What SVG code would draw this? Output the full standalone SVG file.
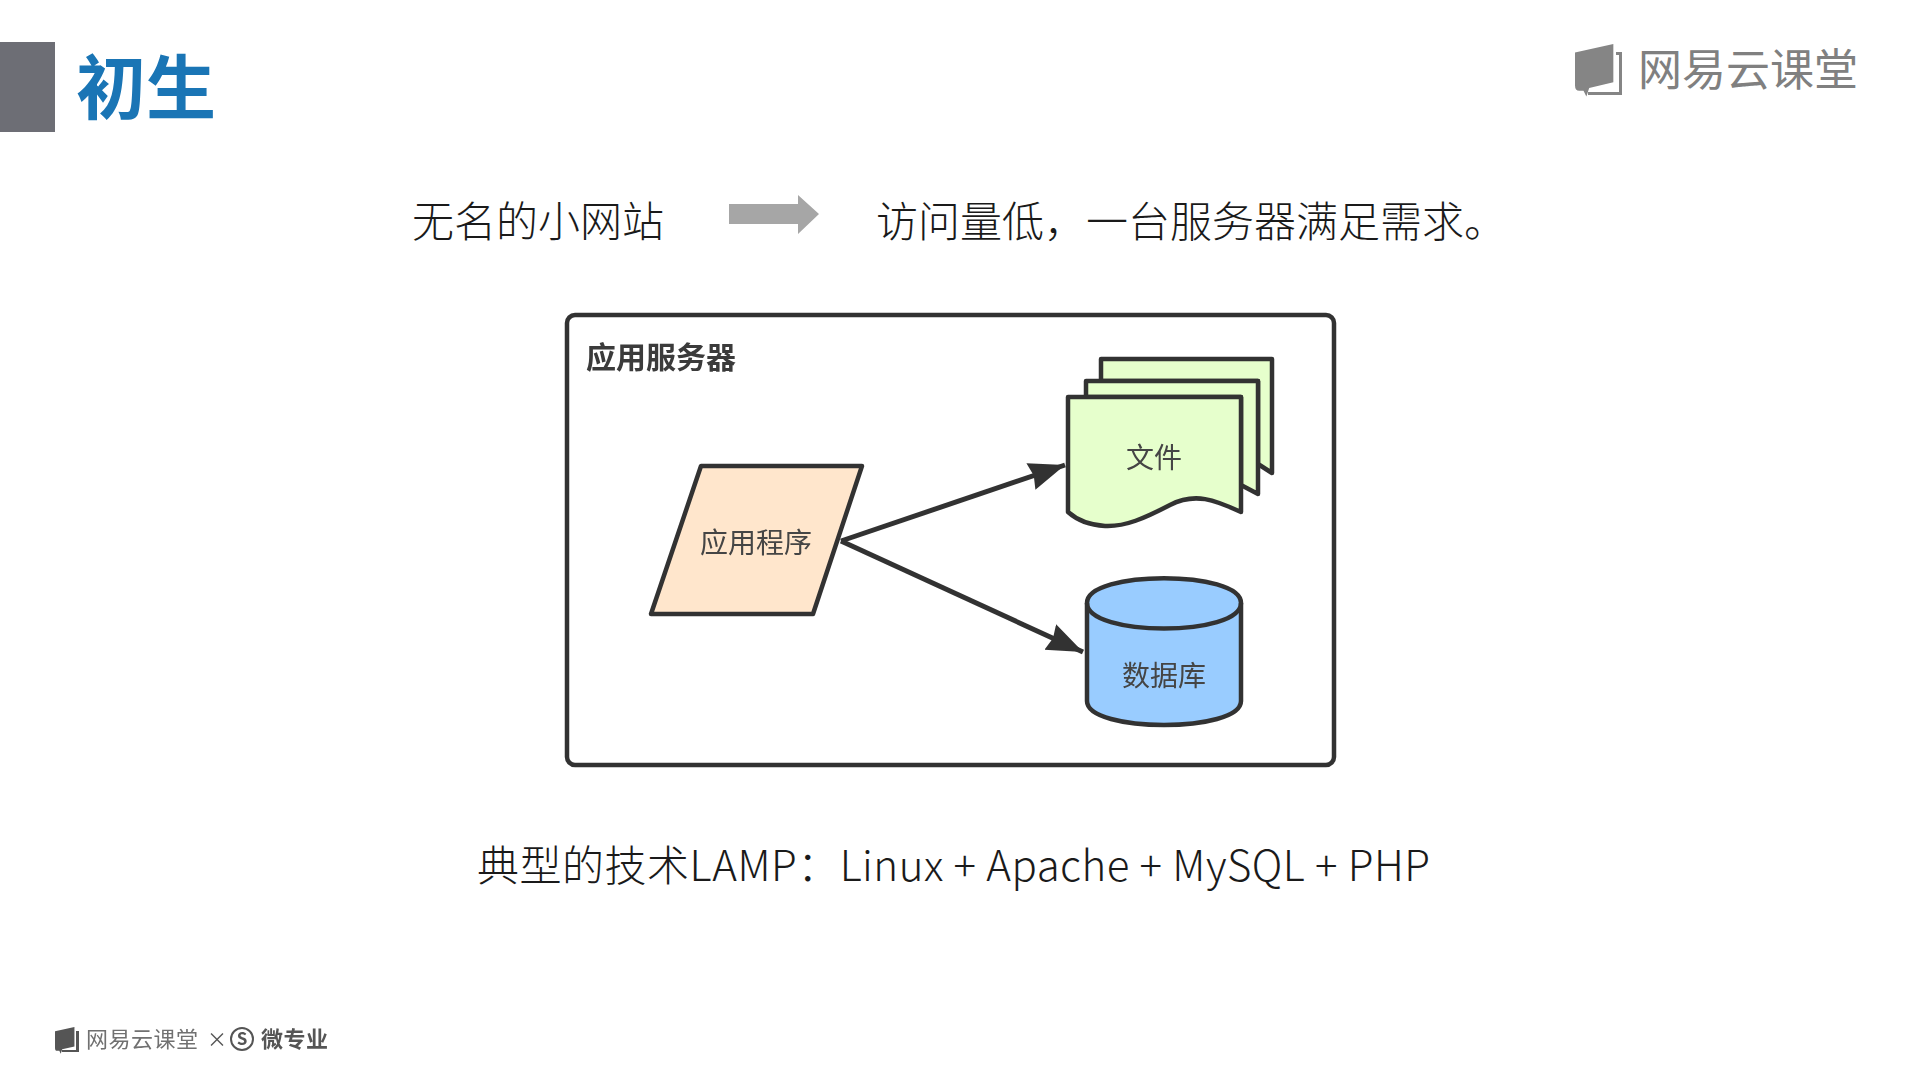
<svg xmlns="http://www.w3.org/2000/svg" width="1914" height="1073" viewBox="0 0 1914 1073">
<style>
text{font-family:"Noto Sans CJK SC","Noto Sans",sans-serif;}
.line{font-size:42px;fill:#1a1a1a;font-weight:300;}
.lbl{font-size:28px;fill:#444;text-anchor:middle;}
.shape{stroke:#333;stroke-width:4.5;stroke-linejoin:round;}
.conn{stroke:#333;stroke-width:5;fill:none;}
.logo{fill:#858585;}
.logot{fill:#808080;font-weight:400;}
</style>
<defs>
<marker id="ah" markerUnits="userSpaceOnUse" markerWidth="42" markerHeight="32" refX="36" refY="14" orient="auto"><path d="M0 0L36 14L0 28L3 14Z" fill="#333"/></marker>
<path id="book" d="M0 6L27 0V27L10 31L8 37L6 33H3Q0 33 0 29Z"/>
<filter id="soft" x="-5%" y="-5%" width="110%" height="110%"><feGaussianBlur stdDeviation="0.7"/></filter>
</defs>
<rect width="1914" height="1073" fill="#fff"/>
<g id="title">
<rect x="0" y="42" width="55" height="90" fill="#6d6e75"/>
<text x="76" y="114" font-size="70" font-weight="700" fill="#1a75b5">初生</text>
</g>
<g id="brand">
<g class="logo"><use href="#book" transform="translate(1575,44) scale(1.42)"/><path d="M1616 52h6v43h-34v-3h31v-37h-3z"/></g>
<text class="logot" x="1638" y="86" font-size="44" textLength="220">网易云课堂</text>
</g>
<g id="intro">
<text class="line" x="412" y="237">无名的小网站</text>
<path d="M729 204H798V195L819 214L798 234V224H729Z" fill="#a6a6a6"/>
<text class="line" x="876" y="237">访问量低，一台服务器满足需求。</text>
</g>
<g id="server" filter="url(#soft)">
<rect class="shape" x="567" y="315" width="767" height="450" rx="8" fill="#fff"/>
<text x="586" y="368" font-size="30" font-weight="700" fill="#3a3a3a">应用服务器</text>
</g>
<g id="connectors" filter="url(#soft)">
<path class="conn" d="M841 541L1065 465" marker-end="url(#ah)"/>
<path class="conn" d="M841 541L1083 652" marker-end="url(#ah)"/>
</g>
<g id="app" filter="url(#soft)">
<path class="shape" d="M701 466H862L813 614H651Z" fill="#ffe6cc"/>
<text class="lbl" x="756" y="553">应用程序</text>
</g>
<g id="files" filter="url(#soft)">
<path class="shape" d="M1101 359H1272V473L1258 464V381H1101Z" fill="#e6ffcc"/>
<path class="shape" d="M1086 381H1258V494L1241 485V397H1086Z" fill="#e6ffcc"/>
<path class="shape" d="M1068 397H1241V512C1215 500 1195 492 1170 505C1145 518 1125 527 1105 526C1090 525 1077 520 1068 512Z" fill="#e6ffcc"/>
<text class="lbl" x="1154" y="468">文件</text>
</g>
<g id="db" filter="url(#soft)">
<path class="shape" d="M1087 603C1087 570 1241 570 1241 603V701C1241 733 1087 733 1087 701Z" fill="#99ccff"/>
<path class="shape" d="M1087 603C1087 637 1241 637 1241 603" fill="none"/>
<text class="lbl" x="1164" y="686">数据库</text>
</g>
<g id="lamp">
<text class="line" x="477" y="881" textLength="953">典型的技术LAMP：Linux + Apache + MySQL + PHP</text>
</g>
<g id="footer" filter="url(#soft)">
<g fill="#555"><use href="#book" transform="translate(55,1027) scale(0.72)"/><path d="M76 1031h3v21h-17v-2h14z"/></g>
<text x="86" y="1047" font-size="22" fill="#707070" textLength="112">网易云课堂</text>
<text x="207" y="1047" font-size="20" fill="#555">×</text>
<circle cx="242" cy="1039" r="11" fill="none" stroke="#555" stroke-width="2"/>
<text x="242" y="1045" font-size="17" font-weight="700" fill="#555" text-anchor="middle">S</text>
<text x="261" y="1047" font-size="22" font-weight="700" fill="#555" textLength="67">微专业</text>
</g>
</svg>
